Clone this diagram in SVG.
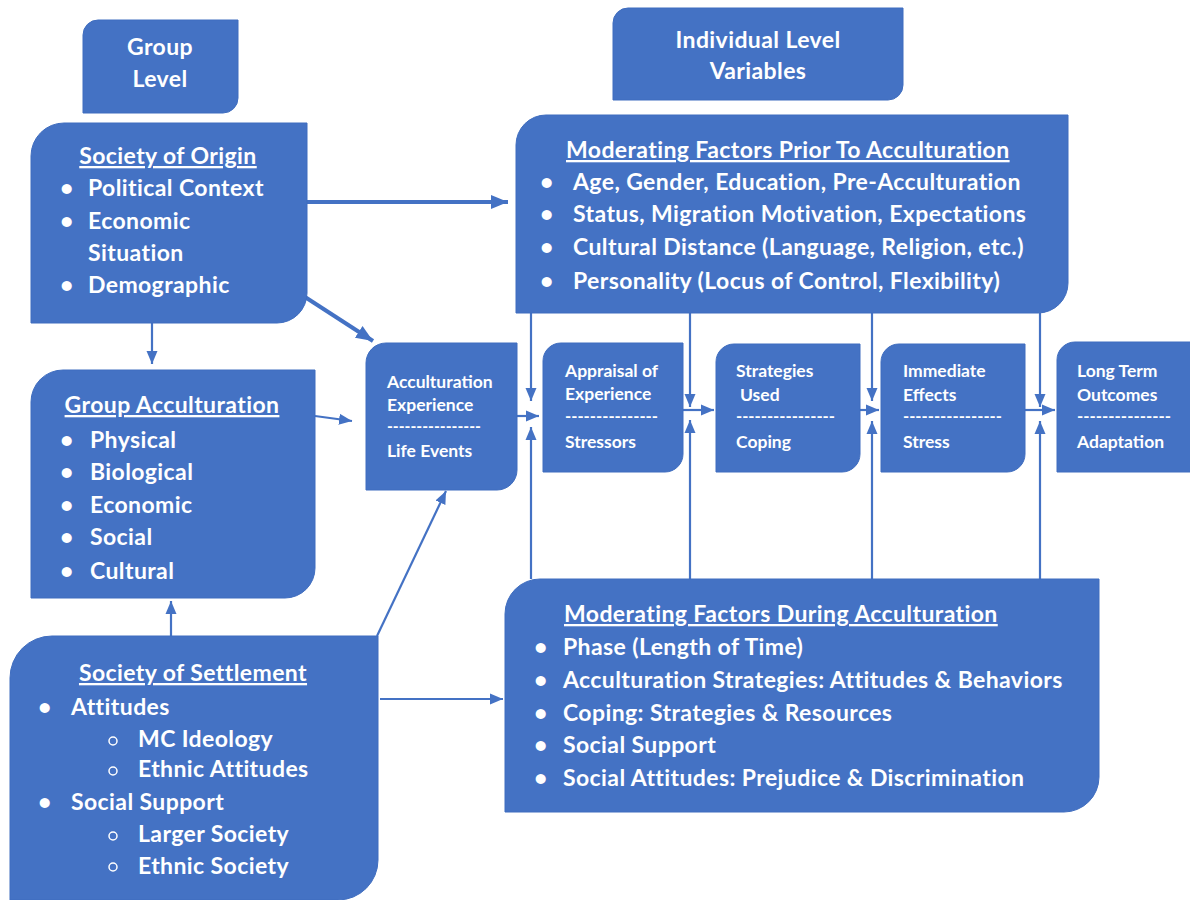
<svg xmlns="http://www.w3.org/2000/svg" width="1190" height="900" viewBox="0 0 1190 900">
<defs>
<style>
.box{fill:#4472C4;stroke:#3F6DBF;stroke-width:1}
.t{font-family:Lato,"Open Sans","Liberation Sans",sans-serif;font-weight:bold;fill:#FFFFFF}
.big{font-size:23px;letter-spacing:0.4px}
.sm{font-size:17.5px}
.c{text-anchor:middle}
.u{text-decoration:underline}
.ln{stroke:#4472C4;fill:none}
.th{stroke-width:4}
.tn{stroke-width:2.2}
</style>
<marker id="ah" markerUnits="userSpaceOnUse" markerWidth="14" markerHeight="14" viewBox="0 0 14 14" refX="13" refY="7" orient="auto"><path d="M0,1.5 L13,7 L0,12.5 Z" fill="#4472C4"/></marker>
<marker id="ahb" markerUnits="userSpaceOnUse" markerWidth="18" markerHeight="18" viewBox="0 0 18 18" refX="17" refY="9" orient="auto"><path d="M0,2 L17,9 L0,16 Z" fill="#4472C4"/></marker>
</defs>
<rect width="1190" height="900" fill="#FFFFFF"/>

<g id="connectors">
<line class="ln th" x1="307" y1="202" x2="508" y2="202" marker-end="url(#ahb)"/>
<line class="ln th" x1="305" y1="297" x2="373" y2="341" marker-end="url(#ahb)"/>
<line class="ln tn" x1="152" y1="323" x2="152" y2="364" marker-end="url(#ah)"/>
<line class="ln tn" x1="315" y1="416" x2="352" y2="421" marker-end="url(#ah)"/>
<line class="ln tn" x1="171" y1="636" x2="171" y2="601" marker-end="url(#ah)"/>
<line class="ln tn" x1="377" y1="636" x2="446" y2="491" marker-end="url(#ah)"/>
<line class="ln tn" x1="380" y1="699" x2="503" y2="699" marker-end="url(#ah)"/>
<line class="ln tn" x1="517" y1="416" x2="539" y2="416" marker-end="url(#ah)"/>
<line class="ln tn" x1="683" y1="410" x2="714" y2="410" marker-end="url(#ah)"/>
<line class="ln tn" x1="860" y1="410" x2="879" y2="410" marker-end="url(#ah)"/>
<line class="ln tn" x1="1025" y1="410" x2="1055" y2="410" marker-end="url(#ah)"/>
<line class="ln tn" x1="531" y1="313" x2="531" y2="401" marker-end="url(#ah)"/>
<line class="ln tn" x1="690" y1="313" x2="690" y2="407" marker-end="url(#ah)"/>
<line class="ln tn" x1="872" y1="313" x2="872" y2="401" marker-end="url(#ah)"/>
<line class="ln tn" x1="1040" y1="313" x2="1040" y2="407" marker-end="url(#ah)"/>
<line class="ln tn" x1="531" y1="579" x2="531" y2="427" marker-end="url(#ah)"/>
<line class="ln tn" x1="690" y1="579" x2="690" y2="420" marker-end="url(#ah)"/>
<line class="ln tn" x1="872" y1="579" x2="872" y2="421" marker-end="url(#ah)"/>
<line class="ln tn" x1="1040" y1="579" x2="1040" y2="421" marker-end="url(#ah)"/>
</g>

<g id="group-level">
<path class="box" d="M83,35 A15,15 0 0 1 98,20 H238 V98 A15,15 0 0 1 223,113 H83 Z"/>
<text class="t big c" x="160" y="55">Group</text>
<text class="t big c" x="160" y="87">Level</text>
</g>

<g id="individual-level">
<path class="box" d="M613,23 A15,15 0 0 1 628,8 H903 V85 A15,15 0 0 1 888,100 H613 Z"/>
<text class="t big c" x="758" y="48">Individual Level</text>
<text class="t big c" x="758" y="79">Variables</text>
</g>

<g id="society-origin">
<path class="box" d="M31,156 A33,33 0 0 1 64,123 H307 V293 A30,30 0 0 1 277,323 H31 Z"/>
<text class="t big c u" x="168" y="164">Society of Origin</text>
<text class="t big" x="60" y="196">•</text><text class="t big" x="88" y="196">Political Context</text>
<text class="t big" x="60" y="229">•</text><text class="t big" x="88" y="229">Economic</text>
<text class="t big" x="88" y="261">Situation</text>
<text class="t big" x="60" y="293">•</text><text class="t big" x="88" y="293">Demographic</text>
</g>

<g id="group-acculturation">
<path class="box" d="M31,402 A32,32 0 0 1 63,370 H315 V568 A30,30 0 0 1 285,598 H31 Z"/>
<text class="t big c u" x="172" y="413">Group Acculturation</text>
<text class="t big" x="60" y="448">•</text><text class="t big" x="90" y="448">Physical</text>
<text class="t big" x="60" y="480">•</text><text class="t big" x="90" y="480">Biological</text>
<text class="t big" x="60" y="513">•</text><text class="t big" x="90" y="513">Economic</text>
<text class="t big" x="60" y="545">•</text><text class="t big" x="90" y="545">Social</text>
<text class="t big" x="60" y="579">•</text><text class="t big" x="90" y="579">Cultural</text>
</g>

<g id="society-settlement">
<path class="box" d="M10,678 A42,42 0 0 1 52,636 H378 V860 A40,40 0 0 1 338,900 H10 Z"/>
<text class="t big c u" x="193" y="681">Society of Settlement</text>
<text class="t big" x="38" y="715">•</text><text class="t big" x="71" y="715">Attitudes</text>
<circle cx="113" cy="741" r="4" fill="none" stroke="#FFFFFF" stroke-width="1.5"/><text class="t big" x="138" y="747">MC Ideology</text>
<circle cx="113" cy="771" r="4" fill="none" stroke="#FFFFFF" stroke-width="1.5"/><text class="t big" x="138" y="777">Ethnic Attitudes</text>
<text class="t big" x="38" y="810">•</text><text class="t big" x="71" y="810">Social Support</text>
<circle cx="113" cy="836" r="4" fill="none" stroke="#FFFFFF" stroke-width="1.5"/><text class="t big" x="138" y="842">Larger Society</text>
<circle cx="113" cy="867" r="4" fill="none" stroke="#FFFFFF" stroke-width="1.5"/><text class="t big" x="138" y="874">Ethnic Society</text>
</g>

<g id="moderating-prior">
<path class="box" d="M516,145 A30,30 0 0 1 546,115 H1068 V283 A30,30 0 0 1 1038,313 H516 Z"/>
<text class="t big u" x="566" y="158">Moderating Factors Prior To Acculturation</text>
<text class="t big" x="540" y="190">•</text><text class="t big" x="573" y="190">Age, Gender, Education, Pre-Acculturation</text>
<text class="t big" x="540" y="222">•</text><text class="t big" x="573" y="222">Status, Migration Motivation, Expectations</text>
<text class="t big" x="540" y="255">•</text><text class="t big" x="573" y="255">Cultural Distance (Language, Religion, etc.)</text>
<text class="t big" x="540" y="289">•</text><text class="t big" x="573" y="289">Personality (Locus of Control, Flexibility)</text>
</g>

<g id="moderating-during">
<path class="box" d="M505,614 A35,35 0 0 1 540,579 H1099 V777 A35,35 0 0 1 1064,812 H505 Z"/>
<text class="t big u" x="564" y="622">Moderating Factors During Acculturation</text>
<text class="t big" x="534" y="655">•</text><text class="t big" x="563" y="655">Phase (Length of Time)</text>
<text class="t big" x="534" y="688">•</text><text class="t big" x="563" y="688">Acculturation Strategies: Attitudes &amp; Behaviors</text>
<text class="t big" x="534" y="721">•</text><text class="t big" x="563" y="721">Coping: Strategies &amp; Resources</text>
<text class="t big" x="534" y="753">•</text><text class="t big" x="563" y="753">Social Support</text>
<text class="t big" x="534" y="786">•</text><text class="t big" x="563" y="786">Social Attitudes: Prejudice &amp; Discrimination</text>
</g>

<g id="acculturation-experience">
<path class="box" d="M366,363 A20,20 0 0 1 386,343 H517 V470 A20,20 0 0 1 497,490 H366 Z"/>
<text class="t sm" x="387" y="388">Acculturation</text>
<text class="t sm" x="387" y="411">Experience</text>
<text class="t sm" x="387" y="432" textLength="94" lengthAdjust="spacingAndGlyphs">----------------</text>
<text class="t sm" x="387" y="457">Life Events</text>
</g>

<g id="appraisal">
<path class="box" d="M543,361 A18,18 0 0 1 561,343 H683 V454 A18,18 0 0 1 665,472 H543 Z"/>
<text class="t sm" x="565" y="377">Appraisal of</text>
<text class="t sm" x="565" y="400">Experience</text>
<text class="t sm" x="565" y="422" textLength="93" lengthAdjust="spacingAndGlyphs">---------------</text>
<text class="t sm" x="565" y="448">Stressors</text>
</g>

<g id="strategies">
<path class="box" d="M716,362 A18,18 0 0 1 734,344 H860 V454 A18,18 0 0 1 842,472 H716 Z"/>
<text class="t sm" x="736" y="377">Strategies</text>
<text class="t sm" x="740" y="401">Used</text>
<text class="t sm" x="736" y="422" textLength="99" lengthAdjust="spacingAndGlyphs">----------------</text>
<text class="t sm" x="736" y="448">Coping</text>
</g>

<g id="immediate">
<path class="box" d="M881,362 A18,18 0 0 1 899,344 H1025 V454 A18,18 0 0 1 1007,472 H881 Z"/>
<text class="t sm" x="903" y="377">Immediate</text>
<text class="t sm" x="903" y="401">Effects</text>
<text class="t sm" x="903" y="422" textLength="99" lengthAdjust="spacingAndGlyphs">----------------</text>
<text class="t sm" x="903" y="448">Stress</text>
</g>

<g id="long-term">
<path class="box" d="M1057,360 A18,18 0 0 1 1075,342 H1196 V472 H1057 Z"/>
<text class="t sm" x="1077" y="377">Long Term</text>
<text class="t sm" x="1077" y="401">Outcomes</text>
<text class="t sm" x="1077" y="422" textLength="94" lengthAdjust="spacingAndGlyphs">---------------</text>
<text class="t sm" x="1077" y="448">Adaptation</text>
</g>
</svg>
